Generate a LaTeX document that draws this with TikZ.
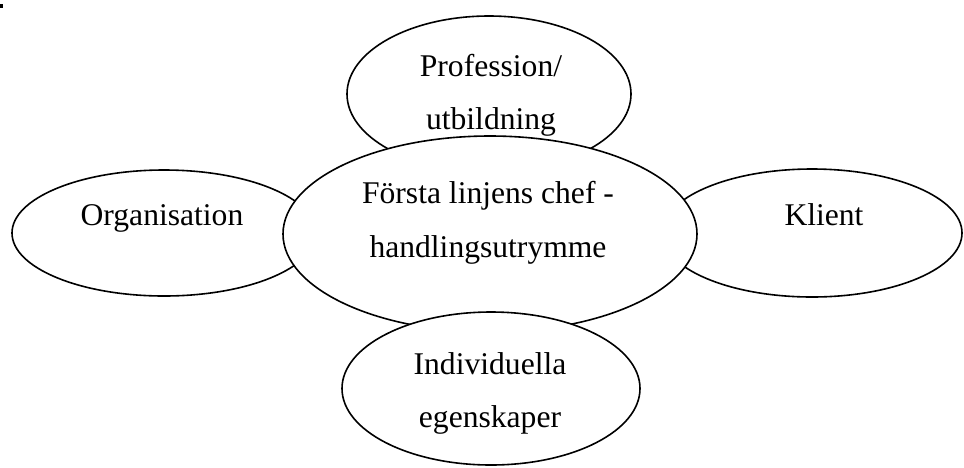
\documentclass[tikz,border=0pt]{standalone}
\usepackage{fontspec}
\setmainfont{Liberation Serif}
\usetikzlibrary{shapes.geometric}
\begin{document}
\begin{tikzpicture}[x=1pt,y=-1pt,
  oval/.style={ellipse, draw=black, line width=1.6pt, fill=white, inner sep=0pt},
  lbl/.style={font=\fontsize{31.6}{53}\selectfont, inner sep=0pt, anchor=base}]
\useasboundingbox (0,0) rectangle (964,467);
\fill (0,4) rectangle (2.5,7.5);
% outer ellipses (behind centre)
\node[oval, minimum width=304pt, minimum height=126pt] (org) at (164,233) {};
\node[oval, minimum width=300pt, minimum height=128pt] (kli) at (812,233) {};
\node[oval, minimum width=284pt, minimum height=156pt] (pro) at (489,94) {};
% centre
\node[oval, minimum width=414pt, minimum height=196pt] (mid) at (490,234) {};
% bottom (in front)
\node[oval, minimum width=298pt, minimum height=153pt] (ind) at (491,388.5) {};
% texts
\node[lbl] (t1) at (162,225) {Organisation};
\node[lbl] (t2) at (824,225) {Klient};
\node[lbl] (t3) at (491,76) {Profession/};
\node[lbl] (t4) at (491,129) {utbildning};
\node[lbl] (t5) at (488,203) {Första linjens chef -};
\node[lbl] (t6) at (488,257) {handlingsutrymme};
\node[lbl] (t7) at (490,374) {Individuella};
\node[lbl] (t8) at (490,427) {egenskaper};
\end{tikzpicture}
\end{document}
